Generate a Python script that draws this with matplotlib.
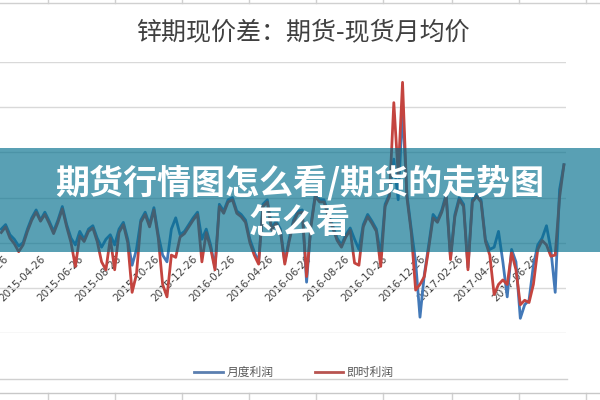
import matplotlib
matplotlib.use("Agg")
import matplotlib.pyplot as plt
from matplotlib.lines import Line2D
from matplotlib.patches import Rectangle
import pandas as pd

plt.rcParams['font.family'] = ['Noto Sans CJK SC', 'DejaVu Sans']

# ---- data ----
title = "锌期现价差：期货-现货月均价"
banner_line1 = "期货行情图怎么看/期货的走势图"
banner_line2 = "怎么看"
series_names = ["月度利润", "即时利润"]

dates = pd.date_range("2015-02-23", periods=130, freq="7D")

monthly_profit = [60, 80, 35, 15, -15, 0, 60, 110, 145, 100,
                  135, 95, 50, 100, 160, 80, 20, -10, 50, 15,
                  60, 75, 20, -20, 15, 35, -10, 60, 90, 15,
                  -100, -30, 100, 135, 80, 155, 35, -55, -85, 60,
                  110, 35, 50, 80, 110, 135, 15, 60, -10, -110,
                  170, 140, 190, 200, 140, 125, 100, 15, -40, -85,
                  170, 190, 65, 95, 60, -85, 15, 100, 140, 145,
                  -175, 80, 215, 190, 190, 125, 75, 20, -10, 35,
                  65, 15, -30, 80, 125, 95, 60, -55, 170, 215,
                  370, 190, 590, 215, 60, -85, -330, -140, -10, 125,
                  100, 145, 215, -65, 125, 200, 170, -110, 190, 215,
                  190, 15, -30, -20, 50, -85, -240, -30, -85, -335,
                  -275, -255, -100, -10, 20, 75, -30, -220, 235, 345]

spot_profit = [45, 70, 20, -5, -40, -10, 50, 100, 135, 95,
               125, 85, 40, 90, 150, 70, 0, -105, 30, 5,
               50, 65, 5, -85, -120, 20, -120, 45, 80, 0,
               -220, -140, 90, 125, 70, 145, 20, -185, -240, -55,
               -65, 25, 40, 70, 100, 125, -85, 45, -25, -120,
               160, 130, 180, 190, 130, 115, 90, 0, -55, -95,
               160, 180, 55, 85, 50, -95, 5, 90, 130, 135,
               -150, 70, 205, 180, 180, 115, 65, 10, -20, 25,
               55, -90, -100, 70, 115, 85, 50, -105, 160, 205,
               620, 300, 710, 200, 45, -210, -185, -150, -25, 110,
               90, 135, 205, -75, 115, 190, 160, -120, 180, 205,
               180, 5, -55, -230, -185, -165, -185, -45, -120, -275,
               -255, -265, -185, -30, 10, -10, -60, -55, 200, 345]

tick_labels = ["2015-02-26", "2015-04-26", "2015-06-26", "2015-08-26", "2015-10-26",
               "2015-12-26", "2016-02-26", "2016-04-26", "2016-06-26", "2016-08-26",
               "2016-10-26", "2016-12-26", "2017-02-26", "2017-04-26", "2017-06-26"]

y_grid = [-400, -200, 0, 200, 400, 600, 800]

# ---- figure ----
fig = plt.figure(figsize=(6, 4), dpi=100)
fig.patch.set_facecolor("white")

ax = fig.add_axes([0.0, 0.1675, 0.943, 0.6775])
ax.plot(dates, monthly_profit, color="#4379B8", lw=2, solid_joinstyle="round")
ax.plot(dates, spot_profit, color="#C4443F", lw=2, solid_joinstyle="round")

ax.set_ylim(-400, 800)
ax.set_xlim(pd.Timestamp("2015-02-21"), pd.Timestamp("2017-08-17"))
ax.set_yticks(y_grid)
ax.yaxis.grid(True, color="#D9D9D9", lw=1)
ax.set_axisbelow(True)
ax.tick_params(axis="y", left=False, labelleft=False)
for s in ["top", "right", "left"]:
    ax.spines[s].set_visible(False)
ax.spines["bottom"].set_position(("data", 0))
ax.spines["bottom"].set_visible(False)

ax.set_xticks([pd.Timestamp(t) for t in tick_labels])
ax.set_xticklabels(tick_labels, rotation=45, ha="right", va="top",
                   rotation_mode="anchor", fontsize=7.5, color="#404040",
                   family="DejaVu Sans")
ax.tick_params(axis="x", length=0, pad=8)
for lbl in ax.get_xticklabels():
    lbl.set_zorder(5)

# title
fig.text(0.505, 0.92, title, ha="center", va="center", fontsize=18, color="#404040")

# legend
handles = [Line2D([], [], color="#5B7FB0", lw=2), Line2D([], [], color="#B85450", lw=2)]
fig.legend(handles, series_names, loc="center", bbox_to_anchor=(0.49, 0.068), ncol=2,
           frameon=False, fontsize=8.5, labelcolor="#595959", handlelength=2.4,
           handletextpad=0.3, columnspacing=3.5)

# spreadsheet/chart frame lines
fig.add_artist(Line2D([0, 1], [0.992, 0.992], transform=fig.transFigure, color="#D0D0D0", lw=1))
for xv in [48, 115, 182, 249, 316, 383, 452, 519, 586]:
    fig.add_artist(Line2D([xv / 600, xv / 600], [0.992, 1.0], transform=fig.transFigure,
                          color="#D0D0D0", lw=1))
    fig.add_artist(Line2D([xv / 600, xv / 600], [0.0, 0.018], transform=fig.transFigure,
                          color="#D0D0D0", lw=1))
fig.add_artist(Line2D([0, 0.945], [0.053, 0.053], transform=fig.transFigure, color="#D0D0D0", lw=1))
fig.add_artist(Line2D([0, 1], [0.018, 0.018], transform=fig.transFigure, color="#C8C8C8", lw=1))

# banner overlay
fig.add_artist(Rectangle((0, 0.37), 1, 0.26, transform=fig.transFigure,
                         facecolor=(0.0, 0.43, 0.55), alpha=0.65, edgecolor="none", zorder=10))
fig.text(0.5, 0.5425, banner_line1, ha="center", va="center", fontsize=24.5,
         fontweight="bold", color="white", zorder=11)
fig.text(0.5, 0.445, banner_line2, ha="center", va="center", fontsize=24.5,
         fontweight="bold", color="white", zorder=11)

fig.savefig("out.png", dpi=100)
